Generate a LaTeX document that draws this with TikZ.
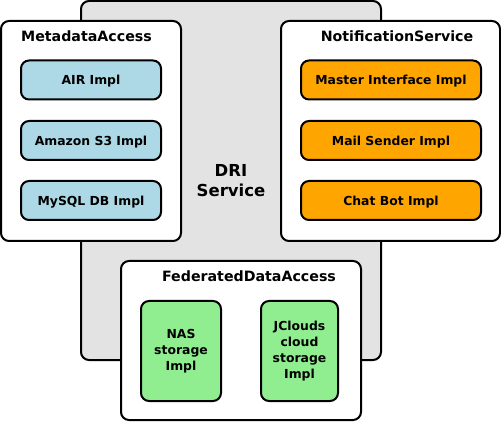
\documentclass[tikz,border=0pt]{standalone}
\usepackage{fontspec}
\setmainfont{DejaVu Sans}
\definecolor{grayfill}{HTML}{E3E3E3}
\definecolor{bluefill}{HTML}{ADD8E6}
\definecolor{orangefill}{HTML}{FFA500}
\definecolor{greenfill}{HTML}{90EE90}
\begin{document}
\begin{tikzpicture}[x=1pt,y=-1pt,
  box/.style={draw=black, line width=2pt, rounded corners=8pt, inner sep=0pt},
  outerbox/.style={box, fill=white},
  implbox/.style={box, font=\bfseries\fontsize{12.4}{16}\selectfont, align=center},
  bluebox/.style={implbox, fill=bluefill, minimum width=140pt, minimum height=39pt, text depth=0pt},
  orangebox/.style={implbox, fill=orangefill, minimum width=180pt, minimum height=39pt, text depth=0pt},
  greenbox/.style={implbox, fill=greenfill, minimum height=100pt},
  title/.style={font=\bfseries\fontsize{14.2}{16}\selectfont, anchor=base, inner sep=0pt}]
\useasboundingbox (0,0) rectangle (501,422);
\node[box, fill=grayfill, minimum width=300pt, minimum height=359pt,
      font=\bfseries\fontsize{16.5}{20}\selectfont, align=center] (dri) at (231,180.5) {DRI\\Service};
% MetadataAccess
\node[outerbox, minimum width=180pt, minimum height=220pt] (meta) at (91,131) {};
\node[title] (metat) at (86.5,41.5) {MetadataAccess};
\node[bluebox] (air) at (91,80) {AIR Impl};
\node[bluebox] (s3) at (91,140.5) {Amazon S3 Impl};
\node[bluebox] (mysql) at (91,200.5) {MySQL DB Impl};
% NotificationService
\node[outerbox, minimum width=219pt, minimum height=220pt] (notif) at (390.5,131) {};
\node[title] (notift) at (397,41.5) {NotificationService};
\node[orangebox] (master) at (391,80) {Master Interface Impl};
\node[orangebox] (mail) at (391,140.5) {Mail Sender Impl};
\node[orangebox] (chat) at (391,200.5) {Chat Bot Impl};
% FederatedDataAccess
\node[outerbox, minimum width=240pt, minimum height=159pt] (fed) at (241,340.5) {};
\node[title] (fedt) at (249,281.5) {FederatedDataAccess};
\node[greenbox, minimum width=80pt] (nas) at (181,351) {NAS\\storage\\Impl};
\node[greenbox, minimum width=77pt] (jc) at (299.5,351) {JClouds\\cloud\\storage\\Impl};
\end{tikzpicture}
\end{document}
